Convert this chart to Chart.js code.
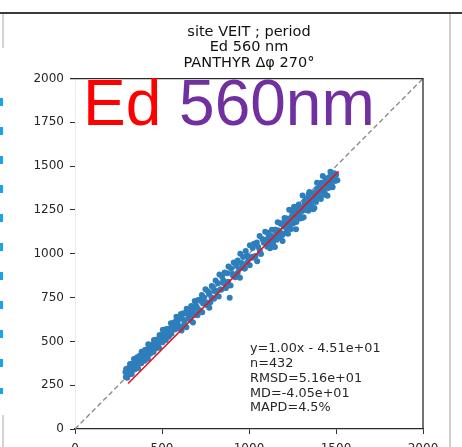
<!DOCTYPE html>
<html>
<head>
<meta charset="utf-8">
<script src="https://cdn.jsdelivr.net/npm/chart.js@4.4.1/dist/chart.umd.min.js"></script>
<style>
  html, body { margin: 0; padding: 0; background: #fff; overflow: hidden; }
  #wrap { position: relative; width: 462px; height: 470px; }
  #chartBox { position: absolute; left: 0; top: 0; width: 462px; height: 470px; }
  .rule-top { position: absolute; left: 0; top: 12px; width: 462px; height: 2px; background: #3a3a3a; }
  .rule-right { position: absolute; left: 449px; top: 14px; width: 2px; height: 460px; background: #cdcdcd; }
  .rule-left { position: absolute; left: 2px; width: 2px; background: #d4d4d4; }
  .dash-left { position: absolute; left: 0; top: 98px; width: 3px; height: 296px;
    background: repeating-linear-gradient(to bottom, #18a4ea 0 8px, transparent 8px 29px); }
  .overlay { position: absolute; left: 83px; top: 71px; font-family: "Liberation Sans", Arial, sans-serif;
    font-size: 64px; line-height: 64px; white-space: nowrap; }
  .overlay .ed { color: #ff0000; }
  .overlay .nm { color: #7030a0; }
</style>
</head>
<body>
<div id="wrap">
  <div id="chartBox"><canvas id="chart"></canvas></div>
  <div class="rule-top"></div>
  <div class="rule-right"></div>
  <div class="rule-left" style="top:14px;height:34px"></div>
  <div class="rule-left" style="top:415px;height:40px"></div>
  <div class="dash-left"></div>
  <div class="overlay"><span class="ed">Ed</span> <span class="nm">560nm</span></div>
</div>
<script>
// matchups: reference Ed (x) vs PANTHYR Ed (y), 560 nm
const refEd = [
  290, 294, 299, 305, 311, 316, 322, 328, 333, 339, 346, 352, 357, 364, 370, 377, 383, 389, 396, 402,
  409, 415, 421, 428, 434, 441, 447, 454, 460, 467, 473, 480, 486, 492, 499, 505, 512, 518, 525, 531,
  538, 544, 551, 557, 564, 570, 577, 583, 590, 596, 603, 609, 616, 622, 629, 635, 642, 648,
  655, 661, 668, 674, 681, 688, 694, 701, 708, 715, 722, 729, 736, 742, 750, 757, 764, 771, 778, 786,
  793, 800, 808, 815, 822, 830, 837, 845, 852, 860, 867, 875, 882, 889, 897, 904, 912, 920, 927, 935,
  943, 950, 958, 966, 974, 981, 989, 997, 1005, 1013, 1021, 1029, 1037, 1045, 1053, 1061, 1069, 1077, 1085, 1093,
  1100, 1105, 1110, 1116, 1121, 1127, 1132, 1138, 1143, 1149, 1154, 1160, 1165, 1171, 1176, 1182, 1187, 1193, 1198, 1204,
  1209, 1215, 1220, 1226, 1231, 1237, 1242, 1248, 1253, 1259, 1264, 1270, 1275, 1281, 1286, 1292, 1297, 1303, 1308, 1314,
  1319, 1325, 1330, 1336, 1341, 1347, 1352, 1358, 1363, 1369, 1374, 1380, 1385, 1391, 1396, 1402, 1407, 1413, 1418, 1424,
  1429, 1435, 1440, 1446, 1451, 1457, 1462, 1468, 1473, 1479, 1484, 1490, 1495, 1501, 1508,
  292, 300, 307, 313, 320, 326, 335, 342, 349, 355, 362, 368, 375, 381, 388, 394, 400, 407, 413, 419,
  426, 432, 438, 445, 451, 458, 464, 470, 477, 483, 490, 496, 503, 509, 515, 522, 528, 535, 541, 548,
  554, 561, 567, 574, 580,
  600, 612, 625, 640, 652, 665, 678, 690, 704, 717, 731, 745, 758, 772, 785, 799, 812, 826, 840, 853,
  866, 880, 894, 907, 921, 935, 948, 962, 976, 990, 1004, 1018, 1032, 1047, 1062,
  1104, 1112, 1120, 1128, 1136, 1144, 1152, 1160, 1168, 1176, 1184, 1192, 1200, 1208, 1216, 1224, 1232, 1240, 1248, 1256,
  1264, 1272, 1280, 1288, 1296, 1304, 1312, 1320, 1328, 1336, 1344, 1352, 1360, 1368, 1376, 1384, 1392, 1400, 1408, 1416,
  1424, 1432, 1440, 1448, 1456, 1464, 1472, 1480, 1488, 1496
];
const panthyrEd = [
  325, 342, 321, 346, 341, 371, 340, 372, 360, 399, 384, 366, 409, 395, 417, 397, 441, 425, 421, 451,
  421, 455, 484, 457, 479, 449, 484, 508, 481, 510, 468, 513, 536, 508, 538, 566, 536, 528, 571, 563,
  526, 572, 604, 576, 605, 572, 612, 640, 613, 588, 633, 657, 630, 660, 614, 661, 686, 657,
  675, 646, 702, 679, 651, 730, 706, 693, 736, 673, 737, 765, 716, 750, 797, 722, 786, 771, 723, 816,
  811, 788, 848, 787, 832, 882, 797, 870, 847, 893, 805, 889, 927, 749, 917, 886, 950, 872, 933, 962,
  913, 1000, 948, 982, 916, 1016, 991, 972, 1049, 977, 1033, 1057, 987, 1065, 1038, 1101, 999, 1085, 1063, 1125,
  1080, 1040, 1120, 1071, 1031, 1097, 1137, 1063, 1093, 1039, 1129, 1100, 1180, 1131, 1091, 1172, 1117, 1073, 1163, 1204,
  1154, 1120, 1200, 1161, 1251, 1192, 1142, 1218, 1173, 1269, 1214, 1140, 1250, 1211, 1281, 1202, 1257, 1243, 1333, 1209,
  1284, 1250, 1315, 1281, 1246, 1352, 1307, 1278, 1343, 1254, 1314, 1350, 1295, 1406, 1346, 1332, 1382, 1313, 1378, 1444,
  1364, 1350, 1430, 1391, 1331, 1422, 1387, 1468, 1428, 1384, 1424, 1460, 1415, 1451, 1420,
  297, 292, 322, 313, 342, 314, 345, 339, 374, 361, 347, 386, 377, 375, 416, 406, 390, 427, 417, 401,
  442, 430, 462, 453, 439, 472, 459, 496, 487, 463, 508, 496, 495, 531, 521, 508, 540, 563, 537, 564,
  544, 569, 587, 568, 594,
  575, 562, 590, 580, 632, 620, 608, 660, 649, 677, 666, 720, 708, 692, 750, 744, 782, 756, 795, 833,
  806, 840, 819, 877, 866, 890, 863, 937, 916, 950, 934, 983, 977, 957, 1017,
  1064, 1107, 1050, 1103, 1041, 1094, 1137, 1080, 1133, 1116, 1174, 1107, 1155, 1188, 1146, 1114, 1202, 1185, 1248, 1181,
  1224, 1182, 1265, 1228, 1261, 1204, 1262, 1300, 1258, 1291, 1339, 1267, 1330, 1308, 1261, 1344, 1372, 1325, 1358, 1406,
  1359, 1337, 1405, 1393, 1376, 1439, 1412, 1380, 1448, 1426
];

// regression from the stats box
const fitSlope = 1.00;
const fitIntercept = -45.1;
const fitRange = [305, 1515];
const axisRange = [0, 2000];

const titleLines = ['site VEIT ; period', 'Ed 560 nm', 'PANTHYR \u0394\u03c6 270\u00b0'];
const statLines = ['y=1.00x - 4.51e+01', 'n=432', 'RMSD=5.16e+01', 'MD=-4.05e+01', 'MAPD=4.5%'];

const yTicks = [0, 250, 500, 750, 1000, 1250, 1500, 1750, 2000];
const xTicks = [0, 500, 1000, 1500, 2000];

const TEXT = '#262626';
const FONT = '"DejaVu Sans", sans-serif';

// top and right spines of the axes box
const axesFrame = {
  id: 'axesFrame',
  afterDatasetsDraw(chart) {
    const { ctx, chartArea: a } = chart;
    ctx.save();
    ctx.strokeStyle = '#2a2a2a';
    ctx.lineWidth = 1.3;
    ctx.beginPath();
    ctx.moveTo(a.left - 5, a.top);
    ctx.lineTo(a.right, a.top);
    ctx.lineTo(a.right, a.bottom);
    ctx.stroke();
    ctx.restore();
  }
};

const statsBox = {
  id: 'statsBox',
  afterDatasetsDraw(chart) {
    const { ctx, chartArea: a } = chart;
    const x = a.left + a.width * 0.503;
    let y = a.bottom - a.height * 0.228;
    ctx.save();
    ctx.font = '12.8px ' + FONT;
    ctx.fillStyle = TEXT;
    ctx.textBaseline = 'middle';
    statLines.forEach(line => {
      ctx.fillText(line, x, y);
      y += 14.7;
    });
    ctx.restore();
  }
};

new Chart(document.getElementById('chart'), {
  type: 'scatter',
  data: {
    datasets: [
      {
        type: 'line',
        data: fitRange.map(v => ({ x: v, y: fitSlope * v + fitIntercept })),
        borderColor: '#e8141b',
        borderWidth: 1.6,
        pointRadius: 0,
      },
      {
        data: refEd.map((v, i) => ({ x: v, y: panthyrEd[i] })),
        backgroundColor: '#2e7ebc',
        borderWidth: 0,
        pointRadius: 3,
      },
      {
        type: 'line',
        data: axisRange.map(v => ({ x: v, y: v })),
        borderColor: '#8c8c8c',
        borderWidth: 1.4,
        borderDash: [5, 3],
        pointRadius: 0,
      },
    ],
  },
  options: {
    responsive: true,
    maintainAspectRatio: false,
    animation: false,
    layout: { padding: { left: 0, right: 39, top: 0, bottom: 0 } },
    plugins: {
      legend: { display: false },
      tooltip: { enabled: false },
      title: {
        display: true,
        fullSize: false,
        text: titleLines,
        color: '#111',
        font: { family: FONT, size: 14.5, weight: 'normal', lineHeight: 1.07 },
        padding: { top: 24, bottom: 8 },
      },
    },
    scales: {
      x: {
        type: 'linear',
        min: axisRange[0],
        max: axisRange[1],
        afterBuildTicks: s => { s.ticks = xTicks.map(v => ({ value: v })); },
        afterFit: s => { s.height = 41; },
        grid: { drawOnChartArea: false, tickLength: 5, color: '#333' },
        border: { color: '#2a2a2a', width: 1.3 },
        ticks: { color: TEXT, padding: 8, font: { family: FONT, size: 12 }, callback: v => String(v) },
      },
      y: {
        type: 'linear',
        min: axisRange[0],
        max: axisRange[1],
        afterBuildTicks: s => { s.ticks = yTicks.map(v => ({ value: v })); },
        afterFit: s => { s.width = 75; },
        grid: { drawOnChartArea: false, tickLength: 5, color: '#333' },
        border: { color: 'rgba(0,0,0,0.08)', width: 1 },
        ticks: { color: TEXT, padding: 6, font: { family: FONT, size: 12 }, callback: v => String(v) },
      },
    },
  },
  plugins: [axesFrame, statsBox],
});
</script>
</body>
</html>
